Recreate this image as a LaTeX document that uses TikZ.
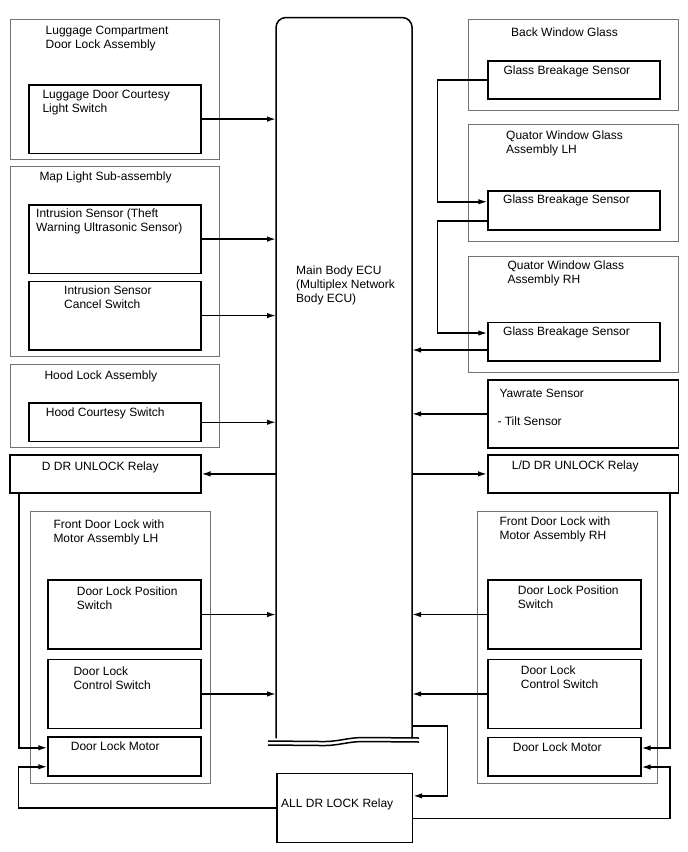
\documentclass[tikz,border=0pt]{standalone}
\usepackage{fontspec}
\setmainfont{Liberation Sans}
\usetikzlibrary{arrows.meta,calc}

\begin{document}
\begin{tikzpicture}[x=1pt, y=-1pt, >={Latex[length=9pt,width=5.5pt]},
    outerbox/.style={draw=black!55, line width=0.9pt, rectangle, inner sep=0pt, anchor=north west},
    partbox/.style={draw=black, line width=1.5pt, rectangle, inner sep=0pt, anchor=north west},
    txt/.style={inner sep=0pt, anchor=base west, align=left, font=\fontsize{12}{14}\selectfont},
    wire/.style={line width=1.5pt}]
    \useasboundingbox (0,0) rectangle (688,852);
    % Nodes (left column)
    \node[outerbox, minimum width=209.5pt, minimum height=139.7pt] (lugbox) at (9.5,19.3) {};
    \node[partbox, minimum width=172pt, minimum height=68.7pt] (lugsw) at (28.3,84) {};
    \node[outerbox, minimum width=209.5pt, minimum height=190.3pt] (mapbox) at (9.5,165.7) {};
    \node[partbox, minimum width=172pt, minimum height=68.7pt] (intr) at (28.3,204) {};
    \node[partbox, minimum width=172pt, minimum height=68.3pt] (cancel) at (28.3,280.7) {};
    \node[outerbox, minimum width=209.5pt, minimum height=83pt] (hoodbox) at (9.5,364.3) {};
    \node[partbox, minimum width=172pt, minimum height=38.4pt] (hoodsw) at (28.3,402.3) {};
    \node[partbox, minimum width=190.7pt, minimum height=38.3pt] (drelay) at (9.3,454) {};
    \node[outerbox, minimum width=180.3pt, minimum height=271.7pt] (lhbox) at (30,511) {};
    \node[partbox, minimum width=152.7pt, minimum height=69pt] (lpos) at (47.3,579.3) {};
    \node[partbox, minimum width=152.7pt, minimum height=69pt] (lctl) at (47.3,658.7) {};
    \node[partbox, minimum width=152.7pt, minimum height=39pt] (lmotor) at (47.3,736) {};
    % Nodes (ECU and relay)
    \node[inner sep=0pt, anchor=north west, minimum width=135.7pt, minimum height=720.5pt] (ecu) at (276,17.5) {};
    \node[partbox, minimum width=135.7pt, minimum height=69.2pt] (allrelay) at (276,772.5) {};
    % Nodes (right column)
    \node[outerbox, minimum width=209.4pt, minimum height=90.7pt] (bwgbox) at (468.3,19.3) {};
    \node[partbox, minimum width=171.7pt, minimum height=38pt] (gbsb) at (487.3,60) {};
    \node[outerbox, minimum width=209.4pt, minimum height=116.4pt] (qlhbox) at (468.3,124.3) {};
    \node[partbox, minimum width=171.7pt, minimum height=39pt] (gbsl) at (487.3,190) {};
    \node[outerbox, minimum width=209.4pt, minimum height=116.6pt] (qrhbox) at (468.3,255.7) {};
    \node[partbox, minimum width=171.7pt, minimum height=38.5pt] (gbsr) at (487.3,321.7) {};
    \node[partbox, minimum width=190.4pt, minimum height=68.3pt] (yaw) at (487.3,379) {};
    \node[partbox, minimum width=190.7pt, minimum height=38.3pt] (ldrelay) at (487,454) {};
    \node[outerbox, minimum width=180pt, minimum height=271.7pt] (rhbox) at (477.3,511) {};
    \node[partbox, minimum width=152.7pt, minimum height=69pt] (rpos) at (487.3,579.3) {};
    \node[partbox, minimum width=152.7pt, minimum height=69pt] (rctl) at (487.3,658.7) {};
    \node[partbox, minimum width=152.7pt, minimum height=38.5pt] (rmotor) at (487.3,736.5) {};
    % Texts (placed at the baseline of the last line)
    \node[txt] (lugtxt) at (45.5,48) {Luggage Compartment\\Door Lock Assembly};
    \node[txt] (lugswtxt) at (42.3,112.7) {Luggage Door Courtesy\\Light Switch};
    \node[txt] (maptxt) at (39.3,180.3) {Map Light Sub-assembly};
    \node[txt] (intrtxt) at (36,231) {Intrusion Sensor (Theft\\Warning Ultrasonic Sensor)};
    \node[txt] (canceltxt) at (64,308) {Intrusion Sensor\\Cancel Switch};
    \node[txt] (hoodtxt) at (44.3,379.5) {Hood Lock Assembly};
    \node[txt] (hoodswtxt) at (45.7,416.5) {Hood Courtesy Switch};
    \node[txt] (drelaytxt) at (41.7,470.5) {D DR UNLOCK Relay};
    \node[txt] (lhtxt) at (53.3,542) {Front Door Lock with\\Motor Assembly LH};
    \node[txt] (lpostxt) at (76.7,609) {Door Lock Position\\Switch};
    \node[txt] (lctltxt) at (73.3,689.5) {Door Lock\\Control Switch};
    \node[txt] (lmotortxt) at (70.7,750.5) {Door Lock Motor};
    \node[txt] (ecutxt) at (296,302) {Main Body ECU\\(Multiplex Network\\Body ECU)};
    \node[txt] (allrelaytxt) at (281,807) {ALL DR LOCK Relay};
    \node[txt] (bwgtxt) at (511,36.5) {Back Window Glass};
    \node[txt] (gbsbtxt) at (503.3,74) {Glass Breakage Sensor};
    \node[txt] (qlhtxt) at (506,153) {Quator Window Glass\\Assembly LH};
    \node[txt] (gbsltxt) at (503,203) {Glass Breakage Sensor};
    \node[txt] (qrhtxt) at (507.3,283) {Quator Window Glass\\Assembly RH};
    \node[txt] (gbsrtxt) at (503,335) {Glass Breakage Sensor};
    \node[txt] (yawtxt) at (499.3,397) {Yawrate Sensor};
    \node[txt] (tilttxt) at (497.3,425.5) {- Tilt Sensor};
    \node[txt] (ldrelaytxt) at (511.7,469.5) {L/D DR UNLOCK Relay};
    \node[txt] (rhtxt) at (499.3,539.5) {Front Door Lock with\\Motor Assembly RH};
    \node[txt] (rpostxt) at (517.7,608) {Door Lock Position\\Switch};
    \node[txt] (rctltxt) at (520.7,688) {Door Lock\\Control Switch};
    \node[txt] (rmotortxt) at (512.7,751.5) {Door Lock Motor};
    % ECU outline with break
    \draw[line width=1.5pt, rounded corners=10pt] (ecu.south west) -- (ecu.north west) -- (ecu.north east) -- (ecu.south east);
    \draw[line width=1.5pt] (268,741) -- (320,741.5) .. controls (340,742) and (345,737.5) .. (365,737.5) -- (419,738);
    \draw[line width=1.5pt] (268,745) -- (320,745.5) .. controls (340,746) and (345,741.5) .. (365,741.5) -- (419,742);
    % Arrows (left)
    \draw[wire, ->] (lugsw.east) -- (lugsw.east -| ecu.west);
    \draw[wire, ->] (intr.east) -- (intr.east -| ecu.west);
    \draw[wire, ->] (cancel.east) -- (cancel.east -| ecu.west);
    \draw[wire, ->] (hoodsw.east) -- (hoodsw.east -| ecu.west);
    \draw[wire, ->] (drelay.east -| ecu.west) -- (drelay.east);
    \draw[wire, ->] (lpos.east) -- (lpos.east -| ecu.west);
    \draw[wire, ->] (lctl.east) -- (lctl.east -| ecu.west);
    \draw[wire, ->] ([xshift=9.7pt]drelay.south west) |- ([yshift=8.5pt]lmotor.west);
    \draw[wire, ->] (allrelay.west) -| ([xshift=-28.8pt, yshift=-10.5pt]lmotor.west) -- ([yshift=-10.5pt]lmotor.west);
    % Arrows (relay)
    \draw[wire, ->] ([yshift=12.3pt]ecu.south east) -| ([xshift=34.3pt, yshift=12pt]allrelay.east) -- ([yshift=12pt]allrelay.east);
    \draw[wire, ->] ([yshift=-10.7pt]allrelay.east) -| ([xshift=28.3pt, yshift=-10.5pt]rmotor.east) -- ([yshift=-10.5pt]rmotor.east);
    % Arrows (right)
    \draw[wire, ->] (gbsb.west) -| ([xshift=-49.6pt, yshift=8.5pt]gbsl.west) -- ([yshift=8.5pt]gbsl.west);
    \draw[wire, ->] ([yshift=-10.5pt]gbsl.west) -| ([xshift=-49.6pt, yshift=8.7pt]gbsr.west) -- ([yshift=8.7pt]gbsr.west);
    \draw[wire, ->] ([yshift=-8.3pt]gbsr.west) -- ([yshift=-8.3pt]gbsr.west -| ecu.east);
    \draw[wire, ->] (yaw.west) -- (yaw.west -| ecu.east);
    \draw[wire, ->] (ldrelay.west -| ecu.east) -- (ldrelay.west);
    \draw[wire, ->] (rpos.west) -- (rpos.west -| ecu.east);
    \draw[wire, ->] (rctl.west) -- (rctl.west -| ecu.east);
    \draw[wire, ->] ([xshift=-9.4pt]ldrelay.south east) |- ([yshift=8.5pt]rmotor.east);
\end{tikzpicture}
\end{document}
